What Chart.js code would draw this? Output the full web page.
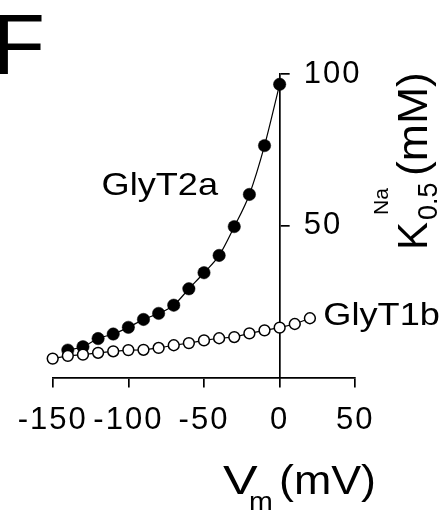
<!DOCTYPE html>
<html><head><meta charset="utf-8">
<script src="https://cdn.jsdelivr.net/npm/chart.js@4/dist/chart.umd.min.js"></script>
<style>html,body{margin:0;padding:0;background:#fff;overflow:hidden}</style>
</head><body>
<canvas id="c" width="446" height="511"></canvas>
<script>
// ---- data ----
const voltagesT2a = [-140,-130,-120,-110,-100,-90,-80,-70,-60,-50,-40,-30,-20,-10,0];
const kT2a        = [9.0,10.1,12.8,14.3,16.5,19.1,21.1,23.8,29.2,34.5,40.2,49.7,60.3,76.4,96.6];
const voltagesT1b = [-150,-140,-130,-120,-110,-100,-90,-80,-70,-60,-50,-40,-30,-20,-10,0,10,20];
const kT1b        = [6.2,7.1,7.5,8.1,8.6,9.0,9.1,9.7,10.6,11.3,12.2,12.9,13.3,14.5,15.5,16.4,17.6,19.5];
const xTicks = [-150,-100,-50,0,50];
const yTicks = [50,100];
const seriesNames = ['GlyT2a','GlyT1b'];
const panelLetter = 'F';

const FAM = '"Liberation Sans", Arial, Helvetica, sans-serif';

function pts(xs, ys){ return xs.map((v,i)=>({x:v, y:ys[i]})); }

function drawStretched(ctx, text, x, y, size, sx){
  ctx.save();
  ctx.translate(x, y);
  ctx.scale(sx, 1);
  ctx.font = size + 'px ' + FAM;
  ctx.fillText(text, 0, 0);
  const w = ctx.measureText(text).width * sx;
  ctx.restore();
  return w;
}

const moveYAxis = {
  id: 'moveYAxis',
  afterLayout(chart){
    const ys = chart.scales.y, xs = chart.scales.x;
    const px = xs.getPixelForValue(0);
    const w = ys.width;
    ys.left = px; ys.right = px + w;
  },
  beforeDraw(chart){ if ('letterSpacing' in chart.ctx) chart.ctx.letterSpacing = '2px'; },
  beforeDatasetsDraw(chart){ if ('letterSpacing' in chart.ctx) chart.ctx.letterSpacing = '0px'; }
};

const texts = {
  id: 'texts',
  afterDraw(chart){
    const ctx = chart.ctx;
    ctx.save();
    if ('letterSpacing' in ctx) ctx.letterSpacing = '0px';
    ctx.fillStyle = '#000';
    ctx.textBaseline = 'alphabetic';
    ctx.textAlign = 'left';
    // panel letter
    drawStretched(ctx, panelLetter, -7, 74, 85, 1.0);
    // series labels
    drawStretched(ctx, seriesNames[0], 101.5, 195, 32, 1.13);
    drawStretched(ctx, seriesNames[1], 323.3, 325, 32, 1.13);
    // x title  V_m (mV)
    drawStretched(ctx, 'V', 223, 493.5, 40, 1.3);
    drawStretched(ctx, 'm', 249, 509.5, 26, 1.1);
    drawStretched(ctx, '(mV)', 279, 493.5, 40, 1.12);
    // y title  K^Na_0.5 (mM), rotated
    ctx.save();
    ctx.translate(426.7, 250);
    ctx.rotate(-Math.PI/2);
    drawStretched(ctx, 'K', 0, 0, 42, 1.0);
    drawStretched(ctx, 'Na', 35, -39, 21, 1.0);
    drawStretched(ctx, '0.5', 30, 10, 27, 1.0);
    drawStretched(ctx, '(mM)', 74, 0, 42, 1.06);
    ctx.restore();
    ctx.restore();
  }
};

new Chart(document.getElementById('c'), {
  type: 'scatter',
  data: {
    datasets: [
      {
        label: seriesNames[1],
        data: pts(voltagesT1b, kT1b),
        showLine: true,
        borderColor: '#000',
        borderWidth: 1.2,
        pointRadius: 5.4,
        pointBorderWidth: 1.5,
        pointBackgroundColor: '#fff',
        pointBorderColor: '#000',
        clip: false
      },
      {
        label: seriesNames[0],
        data: pts(voltagesT2a, kT2a),
        showLine: true,
        cubicInterpolationMode: 'monotone',
        borderColor: '#000',
        borderWidth: 1.2,
        pointRadius: 6.2,
        pointBorderWidth: 0.5,
        pointBackgroundColor: '#000',
        pointBorderColor: '#000',
        clip: false
      }
    ]
  },
  options: {
    responsive: false,
    devicePixelRatio: 1,
    animation: false,
    layout: { padding: { left: 52.7, top: 74, right: 0, bottom: 0 } },
    plugins: { legend: { display: false }, tooltip: { enabled: false } },
    scales: {
      x: {
        type: 'linear', position: 'bottom', min: -150, max: 50,
        afterBuildTicks: s => { s.ticks = xTicks.map(v => ({ value: v })); },
        afterFit: s => { s.height = 511 - 377.4; },
        grid: { drawOnChartArea: false, drawTicks: true, tickLength: 10, color: '#000', lineWidth: 1.7 },
        border: { display: true, color: '#000', width: 1.7 },
        ticks: { color: '#000', font: { family: FAM, size: 31 }, padding: 14, maxRotation: 0, autoSkip: false }
      },
      y: {
        type: 'linear', position: 'right', min: 0, max: 100,
        afterBuildTicks: s => { s.ticks = yTicks.map(v => ({ value: v })); },
        afterFit: s => { s.width = 446 - 355.3; },
        grid: { drawOnChartArea: false, drawTicks: true, tickLength: 10, color: '#000', lineWidth: 1.7 },
        border: { display: true, color: '#000', width: 1.7 },
        ticks: { color: '#000', font: { family: FAM, size: 31 }, padding: 14, autoSkip: false }
      }
    }
  },
  plugins: [moveYAxis, texts]
});
</script>
</body></html>
